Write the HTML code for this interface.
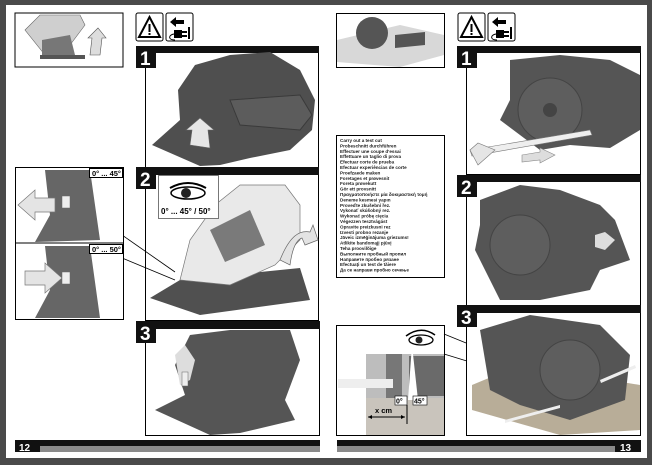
<!DOCTYPE html>
<html><head><meta charset="utf-8"><style>
html,body{margin:0;padding:0;background:#4a4a4a;}
svg{display:block}
text{font-family:"Liberation Sans",sans-serif;}
</style></head><body>
<svg width="652" height="465" viewBox="0 0 652 465" xmlns="http://www.w3.org/2000/svg">
<rect width="652" height="465" fill="#4a4a4a"/>
<rect x="6" y="5" width="641" height="453" fill="#fff"/>

<rect x="15" y="13" width="108" height="54" fill="#fff" stroke="#000" stroke-width="1"/>
<path d="M25 30 L40 15 L80 15 L85 25 L70 45 L45 55 Z" fill="#cfcfcf" stroke="#666" stroke-width=".6"/>
<path d="M42 40 L70 35 L75 55 L42 57 Z" fill="#777"/>
<rect x="40" y="55" width="45" height="4" fill="#555"/>
<path d="M90 55 L92 38 L88 38 L98 28 L106 38 L102 38 L100 55 Z" fill="#ddd" stroke="#555" stroke-width=".6"/>
<rect x="136" y="13" width="27" height="28" rx="2" fill="#fff" stroke="#000"/>
<path d="M149.5 17 L160 37 L139 37 Z" fill="none" stroke="#000" stroke-width="2"/>
<rect x="148.5" y="24" width="2" height="8" fill="#000"/><rect x="148.5" y="33" width="2" height="2" fill="#000"/>
<rect x="166" y="13" width="27" height="28" rx="2" fill="#fff" stroke="#000"/>
<path d="M170 22 L176 17 L176 20 L184 20 L184 24 L176 24 L176 27 Z" fill="#000"/>
<path d="M174 30 h8 v8 h-8 z M182 31 h5 v2 h-5 z M182 35 h5 v2 h-5 z" fill="#000"/>
<rect x="188" y="27" width="2" height="12" fill="#000"/>
<path d="M174 34 C168 35 168 40 175 40" fill="none" stroke="#000"/>

<rect x="145.5" y="46.5" width="173" height="121" fill="#fff" stroke="#000"/>
<rect x="136" y="46" width="183" height="7" fill="#111"/>
<rect x="136" y="46" width="20" height="22" fill="#111"/>
<text x="140" y="65" font-size="19" font-weight="bold" fill="#fff">1</text>
<path d="M152 145 L180 120 L178 90 L195 65 L230 55 L270 52 L300 70 L315 100 L312 130 L290 150 L250 158 L220 165 L200 166 Z" fill="#4f4f4f"/>
<path d="M230 100 L300 95 L312 115 L300 130 L240 125 Z" fill="#5c5c5c" stroke="#3a3a3a"/>
<path d="M190 145 L192 130 L186 130 L200 118 L214 130 L208 130 L210 148 Z" fill="#e6e6e6" stroke="#666" stroke-width=".6"/>

<rect x="145.5" y="167.5" width="173" height="153" fill="#fff" stroke="#000"/>
<rect x="136" y="167" width="183" height="8" fill="#111"/>
<rect x="136" y="167" width="20" height="22" fill="#111"/>
<text x="140" y="186" font-size="19" font-weight="bold" fill="#fff">2</text>
<path d="M150 298 L180 280 L300 268 L310 300 L200 315 Z" fill="#505050"/>
<path d="M180 280 L190 240 L215 205 L240 185 L285 185 L300 205 L300 240 L275 265 L230 285 Z" fill="#e9e9e9" stroke="#777" stroke-width=".7"/>
<path d="M210 230 L250 210 L265 245 L225 262 Z" fill="#7a7a7a"/>
<path d="M280 260 C290 235 300 230 310 232 L313 225 L318 240 L305 245 L302 238 C296 240 292 250 290 265 Z" fill="#e3e3e3" stroke="#666" stroke-width=".7"/>
<rect x="158.5" y="175.5" width="60" height="43" fill="#fff" stroke="#777"/>
<ellipse cx="188" cy="193" rx="17" ry="6" fill="#fff" stroke="#000" stroke-width="1.5"/>
<circle cx="186" cy="193" r="5" fill="#222"/>
<path d="M170 188 Q188 178 206 188" fill="none" stroke="#000" stroke-width="2"/>
<text x="161" y="214" font-size="8" font-weight="bold">0° ... 45° / 50°</text>
<line x1="122" y1="235" x2="175" y2="272" stroke="#000" stroke-width=".8"/>
<line x1="122" y1="258" x2="175" y2="280" stroke="#000" stroke-width=".8"/>

<rect x="15.5" y="167.5" width="108" height="152" fill="#fff" stroke="#000"/>
<line x1="15" y1="243" x2="124" y2="243" stroke="#000"/>
<path d="M45 170 L90 170 L100 240 L35 242 L50 215 Z" fill="#666"/>
<path d="M45 246 L90 246 L100 318 L35 318 L50 290 Z" fill="#666"/>
<path d="M18 205 L35 190 L35 198 L55 198 L55 212 L35 212 L35 220 Z" fill="#e4e4e4" stroke="#777" stroke-width=".7"/>
<path d="M62 278 L45 263 L45 271 L25 271 L25 285 L45 285 L45 293 Z" fill="#e4e4e4" stroke="#777" stroke-width=".7"/>
<rect x="62" y="196" width="8" height="12" fill="#eee" stroke="#666" stroke-width=".5"/>
<rect x="62" y="272" width="8" height="12" fill="#eee" stroke="#666" stroke-width=".5"/>
<rect x="89.5" y="168.5" width="33" height="9" fill="#fff" stroke="#000"/>
<text x="92" y="176" font-size="7.5" font-weight="bold">0° ... 45°</text>
<rect x="89.5" y="244.5" width="33" height="9" fill="#fff" stroke="#000"/>
<text x="92" y="252" font-size="7.5" font-weight="bold">0° ... 50°</text>

<rect x="145.5" y="321.5" width="174" height="114" fill="#fff" stroke="#000"/>
<rect x="136" y="321" width="184" height="8" fill="#111"/>
<rect x="136" y="321" width="20" height="22" fill="#111"/>
<text x="140" y="340" font-size="19" font-weight="bold" fill="#fff">3</text>
<path d="M155 410 L185 395 L175 365 L190 335 L230 330 L290 330 L300 360 L285 400 L295 420 L240 433 L210 435 Z" fill="#555"/>
<path d="M175 355 L185 345 L195 360 L190 380 L180 385 Z" fill="#ddd"/>
<rect x="182" y="372" width="6" height="14" fill="#eee" stroke="#666" stroke-width=".5"/>

<rect x="15" y="440" width="305" height="6" fill="#111"/>
<rect x="40" y="446" width="280" height="6" fill="#8a8a8a"/>
<rect x="15" y="440" width="25" height="12" fill="#111"/>
<text x="19" y="451" font-size="10" font-weight="bold" fill="#fff">12</text>

<rect x="336.5" y="13.5" width="108" height="54" fill="#fff" stroke="#000"/>
<path d="M337 40 L400 25 L444 35 L444 55 L400 67 L337 62 Z" fill="#d8d8d8"/>
<circle cx="372" cy="33" r="16" fill="#555"/>
<path d="M395 35 L425 32 L425 45 L395 48 Z" fill="#555"/>
<rect x="458" y="13" width="27" height="28" rx="2" fill="#fff" stroke="#000"/>
<path d="M471.5 17 L482 37 L461 37 Z" fill="none" stroke="#000" stroke-width="2"/>
<rect x="470.5" y="24" width="2" height="8" fill="#000"/><rect x="470.5" y="33" width="2" height="2" fill="#000"/>
<rect x="488" y="13" width="27" height="28" rx="2" fill="#fff" stroke="#000"/>
<path d="M492 22 L498 17 L498 20 L506 20 L506 24 L498 24 L498 27 Z" fill="#000"/>
<path d="M496 30 h8 v8 h-8 z M504 31 h5 v2 h-5 z M504 35 h5 v2 h-5 z" fill="#000"/>
<rect x="510" y="27" width="2" height="12" fill="#000"/>
<path d="M496 34 C490 35 490 40 497 40" fill="none" stroke="#000"/>

<rect x="336.5" y="135.5" width="108" height="142" fill="#fff" stroke="#000"/>
<g font-size="4.6" font-weight="bold" fill="#222">
<text x="340" y="142">Carry out a test cut</text>
<text x="340" y="147.4">Probeschnitt durchführen</text>
<text x="340" y="152.8">Effectuer une coupe d'essai</text>
<text x="340" y="158.2">Effettuare un taglio di prova</text>
<text x="340" y="163.6">Efectuar corte de prueba</text>
<text x="340" y="169">Efectuar experiências de corte</text>
<text x="340" y="174.4">Proefzaede maken</text>
<text x="340" y="179.8">Foretages et prøvesnit</text>
<text x="340" y="185.2">Foreta prøvekutt</text>
<text x="340" y="190.6">Gör ett provsnitt</text>
<text x="340" y="196">Πραγματοποιήστε μία δοκιμαστική τομή</text>
<text x="340" y="201.4">Deneme kesmesi yapın</text>
<text x="340" y="206.8">Proveďte zkušební řez.</text>
<text x="340" y="212.2">Vykonať skúšobný rez.</text>
<text x="340" y="217.6">Wykonać próbę cięcia</text>
<text x="340" y="223">Végezzen tesztvágást</text>
<text x="340" y="228.4">Opravite preizkusni rez</text>
<text x="340" y="233.8">Izvesti probno rezanje</text>
<text x="340" y="239.2">Jāveic izmēģinājuma griezums!</text>
<text x="340" y="244.6">Atlikite bandomąjį pjūvį</text>
<text x="340" y="250">Teha proovilõige</text>
<text x="340" y="255.4">Выполните пробный пропил</text>
<text x="340" y="260.8">Направете пробно рязане</text>
<text x="340" y="266.2">Efectuaţi un test de tăiere</text>
<text x="340" y="271.6">Да се направи пробно сечење</text>
</g>

<rect x="336.5" y="325.5" width="108" height="110" fill="#fff" stroke="#000"/>
<rect x="366" y="354" width="78" height="81" fill="#bdbdbd"/>
<rect x="366" y="398" width="78" height="37" fill="#c9c4bc"/>
<rect x="386" y="354" width="16" height="44" fill="#777"/>
<rect x="409" y="356" width="35" height="40" fill="#6a6a6a"/>
<rect x="338" y="379" width="55" height="9" fill="#eee"/>
<ellipse cx="421" cy="340" rx="12" ry="5" fill="#fff" stroke="#000" stroke-width="1.3"/>
<circle cx="419" cy="340" r="3.5" fill="#222"/>
<path d="M406 336 Q421 325 435 335" fill="none" stroke="#000" stroke-width="1.5"/>
<path d="M412 345 L408 400 L418 400 Z" fill="#fff"/>
<rect x="395" y="396" width="12" height="9" fill="#fff" stroke="#000" stroke-width=".6"/>
<text x="396" y="403.5" font-size="7" font-weight="bold">0°</text>
<rect x="413" y="396" width="14" height="9" fill="#fff" stroke="#000" stroke-width=".6"/>
<text x="414" y="403.5" font-size="7" font-weight="bold">45°</text>
<line x1="407" y1="405" x2="407" y2="424" stroke="#000"/>
<line x1="368" y1="417" x2="405" y2="417" stroke="#000"/>
<path d="M368 417 l4 -2 v4 z M405 417 l-4 -2 v4 z" fill="#000"/>
<text x="375" y="413" font-size="7.5" font-weight="bold">x cm</text>
<line x1="444" y1="334" x2="545" y2="375" stroke="#000" stroke-width=".8"/>
<line x1="444" y1="354" x2="545" y2="385" stroke="#000" stroke-width=".8"/>

<rect x="466.5" y="46.5" width="174" height="128" fill="#fff" stroke="#000"/>
<rect x="457" y="46" width="184" height="7" fill="#111"/>
<rect x="457" y="46" width="20" height="22" fill="#111"/>
<text x="461" y="65" font-size="19" font-weight="bold" fill="#fff">1</text>
<path d="M510 60 L560 55 L610 60 L640 75 L640 130 L610 148 L570 145 L540 150 L500 120 L510 100 Z" fill="#555"/>
<circle cx="550" cy="110" r="32" fill="#5e5e5e" stroke="#444"/>
<circle cx="550" cy="110" r="7" fill="#444"/>
<path d="M470 150 L590 130 L592 135 L472 156 Z" fill="#eee" stroke="#777" stroke-width=".6"/>
<path d="M470 150 L478 143 L495 150 L478 165 Z" fill="#e5e5e5" stroke="#777" stroke-width=".6"/>
<path d="M522 155 L540 152 L540 148 L555 155 L540 163 L540 160 L522 162 Z" fill="#ddd" stroke="#888" stroke-width=".6"/>

<rect x="466.5" y="175.5" width="174" height="130" fill="#fff" stroke="#000"/>
<rect x="457" y="175" width="184" height="7" fill="#111"/>
<rect x="457" y="175" width="20" height="22" fill="#111"/>
<text x="461" y="194" font-size="19" font-weight="bold" fill="#fff">2</text>
<path d="M480 200 L520 185 L560 190 L600 205 L615 220 L630 260 L600 270 L590 290 L540 300 L500 300 L475 250 L480 225 Z" fill="#555"/>
<circle cx="520" cy="245" r="30" fill="#5e5e5e" stroke="#444"/>
<path d="M595 235 L605 232 L615 240 L605 250 L595 247 Z" fill="#ddd"/>

<rect x="466.5" y="305.5" width="174" height="130" fill="#fff" stroke="#000"/>
<rect x="457" y="305" width="184" height="8" fill="#111"/>
<rect x="457" y="305" width="20" height="22" fill="#111"/>
<text x="461" y="324" font-size="19" font-weight="bold" fill="#fff">3</text>
<path d="M472 385 L520 365 L640 385 L640 430 L560 435 L472 410 Z" fill="#b8ad98"/>
<path d="M480 330 L530 315 L600 325 L630 355 L625 400 L570 420 L520 405 L490 390 L485 360 Z" fill="#555"/>
<circle cx="570" cy="370" r="30" fill="#5e5e5e" stroke="#444"/>
<path d="M505 420 L560 405 L560 408 L505 423 Z" fill="#eee"/>
<path d="M600 380 L635 365 L636 368 L601 383 Z" fill="#eee"/>

<rect x="337" y="440" width="304" height="6" fill="#111"/>
<rect x="337" y="446" width="278" height="6" fill="#8a8a8a"/>
<rect x="615" y="440" width="26" height="12" fill="#111"/>
<text x="620" y="451" font-size="10" font-weight="bold" fill="#fff">13</text>
</svg>
</body></html>
